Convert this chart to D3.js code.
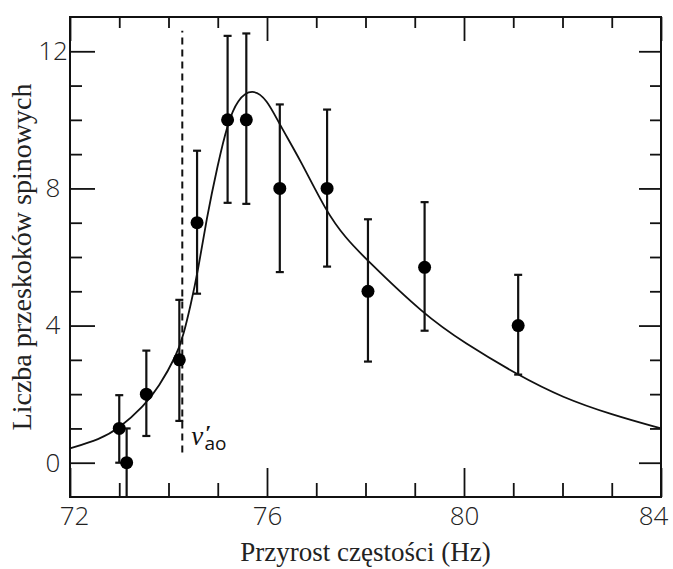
<!DOCTYPE html>
<html>
<head>
<meta charset="utf-8">
<script src="https://cdn.jsdelivr.net/npm/d3@7"></script>
<style>
  body { margin: 0; background: #fff; }
  svg { display: block; }
</style>
</head>
<body>
<svg id="chart"></svg>
<script>
// base settings
const width = 673;
const height = 569;
const margin = {top: 17, right: 12, bottom: 72, left: 70};

// measured points: frequency, count and error bar ends
const freq = [73.0, 73.15, 73.55, 74.22, 74.58, 75.2, 75.58, 76.26, 77.22, 78.05, 79.2, 81.1];
const counts = [1, 0, 2, 3, 7, 10, 10, 8, 8, 5, 5.7, 4];
const errLow = [0, -1, 0.78, 1.22, 4.93, 7.58, 7.55, 5.56, 5.72, 2.95, 3.85, 2.57];
const errHigh = [1.97, 1, 3.27, 4.75, 9.1, 12.45, 12.52, 10.45, 10.3, 7.1, 7.6, 5.48];

// fitted curve
const fitX = [72, 72.6, 73.0, 73.5, 73.8, 74.17, 74.3, 74.45, 74.6, 74.77, 75.0, 75.2, 75.4, 75.7, 76.0, 76.26, 76.67, 77.21, 77.6, 78.0, 79.2, 80.0, 81.1, 82.0, 83.0, 84.0];
const fitY = [0.42, 0.68, 1.0, 1.65, 2.2, 3.15, 3.7, 4.6, 5.6, 7.1, 8.7, 9.9, 10.6, 10.92, 10.6, 9.85, 8.85, 7.3, 6.55, 5.95, 4.3, 3.5, 2.55, 1.9, 1.4, 1.0];

// dashed marker line
const nuX = 74.28;
const nuRange = [0.3, 12.6];

// ticks
const xMajor = [72, 76, 80, 84];
const xMinor = [73, 74, 75, 77, 78, 79, 81, 82, 83];
const yMajor = [0, 4, 8, 12];
const yMinor = [1, 2, 3, 5, 6, 7, 9, 10, 11];

const xTitle = "Przyrost częstości (Hz)";
const yTitle = "Liczba przeskoków spinowych";

const innerW = width - margin.left - margin.right;
const innerH = height - margin.top - margin.bottom;

const svg = d3.select('#chart').attr('width', width).attr('height', height);
const g = svg.append('g').attr('transform', `translate(${margin.left},${margin.top})`);

const x = d3.scaleLinear().domain([72, 84]).range([0, innerW]);
const y = d3.scaleLinear().domain([-1, 13]).range([innerH, 0]);

const tickFont = "'Open Sans', 'DejaVu Sans', sans-serif";
const serifFont = "'Liberation Serif', 'DejaVu Serif', serif";

function styleAxis(sel) {
    sel.select('.domain').remove();
    sel.selectAll('line').attr('stroke', '#111').attr('stroke-width', 1.8);
}

// bottom axis
g.append('g').attr('transform', `translate(0,${innerH})`)
    .call(d3.axisBottom(x).tickValues(xMinor).tickSize(-14).tickFormat(''))
    .call(styleAxis);
const xb = g.append('g').attr('transform', `translate(0,${innerH})`)
    .call(d3.axisBottom(x).tickValues(xMajor).tickSize(-29).tickPadding(10).tickFormat(d3.format('d')))
    .call(styleAxis);
xb.selectAll('text')
    .style('font-family', tickFont).style('font-size', '26px').style('font-weight', 300).attr('fill', '#222')
    .attr('x', d => d === 72 ? 4 : d === 84 ? -8 : 0);

// top axis
g.append('g')
    .call(d3.axisTop(x).tickValues(xMinor).tickSize(-11).tickFormat(''))
    .call(styleAxis);
g.append('g')
    .call(d3.axisTop(x).tickValues(xMajor).tickSize(-24).tickFormat(''))
    .call(styleAxis);

// left axis
g.append('g')
    .call(d3.axisLeft(y).tickValues(yMinor).tickSize(-12).tickFormat(''))
    .call(styleAxis);
const yl = g.append('g')
    .call(d3.axisLeft(y).tickValues(yMajor).tickSize(-25).tickFormat(d3.format('d')))
    .call(styleAxis);
yl.selectAll('text')
    .style('font-family', tickFont).style('font-size', '26px').style('font-weight', 300).attr('fill', '#222')
    .attr('text-anchor', 'middle').attr('x', -17);

// right axis
g.append('g').attr('transform', `translate(${innerW},0)`)
    .call(d3.axisRight(y).tickValues(yMinor).tickSize(-11).tickFormat(''))
    .call(styleAxis);
g.append('g').attr('transform', `translate(${innerW},0)`)
    .call(d3.axisRight(y).tickValues(yMajor).tickSize(-22).tickFormat(''))
    .call(styleAxis);

// frame
g.append('rect')
    .attr('width', innerW).attr('height', innerH)
    .attr('fill', 'none').attr('stroke', '#111').attr('stroke-width', 2);

// dashed line at nu'_ao
g.append('line')
    .attr('x1', x(nuX)).attr('x2', x(nuX))
    .attr('y1', y(nuRange[0])).attr('y2', y(nuRange[1]))
    .attr('stroke', '#111').attr('stroke-width', 2)
    .attr('stroke-dasharray', '7,5');

// label nu'_ao in one text: symbol, prime and subscript
const nuLabel = g.append('text')
    .attr('x', x(nuX) + 9).attr('y', y(nuRange[0]) - 7)
    .attr('fill', '#111');
nuLabel.append('tspan')
    .style('font-family', serifFont).style('font-style', 'italic').style('font-size', '27px')
    .text('ν');
nuLabel.append('tspan')
    .style('font-family', serifFont).style('font-size', '22px').style('font-weight', 'bold')
    .attr('dx', 2).attr('dy', -5).text('′');
nuLabel.append('tspan')
    .style('font-family', tickFont).style('font-size', '19px')
    .attr('dx', -7).attr('dy', 10).text('ao');

// fitted curve
const fit = fitX.map((d, i) => [d, fitY[i]]);
g.append('path')
    .datum(fit)
    .attr('fill', 'none').attr('stroke', '#111').attr('stroke-width', 1.8)
    .attr('d', d3.line().x(d => x(d[0])).y(d => y(d[1])).curve(d3.curveBasis));

// error bars and points
const pts = freq.map((f, i) => ({f, c: counts[i], lo: errLow[i], hi: errHigh[i]}));
const eb = g.append('g').attr('stroke', '#111').attr('stroke-width', 2.2);
eb.selectAll('.bar').data(pts).enter().append('line')
    .attr('x1', d => x(d.f)).attr('x2', d => x(d.f))
    .attr('y1', d => y(d.lo)).attr('y2', d => y(d.hi));
eb.selectAll('.capHi').data(pts).enter().append('line')
    .attr('x1', d => x(d.f) - 4).attr('x2', d => x(d.f) + 4)
    .attr('y1', d => y(d.hi)).attr('y2', d => y(d.hi));
eb.selectAll('.capLo').data(pts.filter(d => d.lo > -1)).enter().append('line')
    .attr('x1', d => x(d.f) - 4).attr('x2', d => x(d.f) + 4)
    .attr('y1', d => y(d.lo)).attr('y2', d => y(d.lo));

g.selectAll('.dot').data(pts).enter().append('circle')
    .attr('cx', d => x(d.f)).attr('cy', d => y(d.c))
    .attr('r', 6.5).attr('fill', '#000');

// axis titles
svg.append('text')
    .attr('x', margin.left + innerW / 2).attr('y', 561)
    .attr('text-anchor', 'middle')
    .style('font-family', serifFont).style('font-size', '27px').attr('fill', '#222')
    .text(xTitle);

svg.append('text')
    .attr('transform', `translate(31,${margin.top + innerH / 2}) rotate(-90)`)
    .attr('text-anchor', 'middle')
    .style('font-family', serifFont).style('font-size', '28px').attr('fill', '#222')
    .text(yTitle);
</script>
</body>
</html>
